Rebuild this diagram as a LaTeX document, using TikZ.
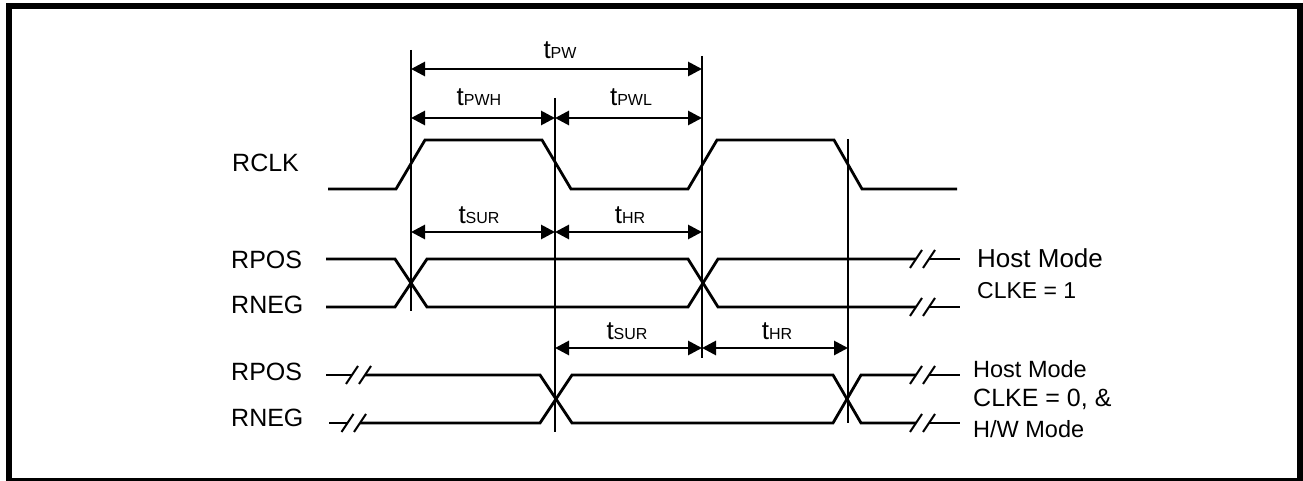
\documentclass[tikz,border=0pt]{standalone}
\usepackage{fontspec}
\setmainfont{Liberation Sans}
\usetikzlibrary{arrows.meta}
\newcommand\tsb[1]{t{\fontsize{16}{18}\selectfont #1}}
\begin{document}
\begin{tikzpicture}[x=1pt,y=-1pt,
  sig/.style={line width=2.8pt, line join=miter},
  guide/.style={line width=2pt},
  dimarrow/.style={line width=2.8pt, {Triangle[length=14pt,width=14pt]}-{Triangle[length=14pt,width=14pt]}},
  brk/.style={line width=2pt},
  lbl/.style={anchor=base west, inner sep=0pt},
  tlab/.style={anchor=base, inner sep=0pt, font=\fontsize{26}{28}\selectfont},
]
\useasboundingbox (0,0) rectangle (1303,481);
\draw[line width=6pt] (9,6) rectangle (1300,481);

% vertical reference lines
\coordinate (v1t) at (411,50);  \coordinate (v1b) at (411,311);
\coordinate (v2t) at (555,98);  \coordinate (v2b) at (555,432);
\coordinate (v3t) at (702,56);  \coordinate (v3b) at (702,358);
\coordinate (v4t) at (848,139); \coordinate (v4b) at (848,423);
\draw[guide] (v1t) -- (v1b);
\draw[guide] (v2t) -- (v2b);
\draw[guide] (v3t) -- (v3b);
\draw[guide] (v4t) -- (v4b);

% dimension arrows
\coordinate (a1) at (411,69);  \coordinate (a2) at (702,69);
\coordinate (b1) at (411,118); \coordinate (b2) at (555,118); \coordinate (b3) at (702,118);
\coordinate (c1) at (411,232); \coordinate (c2) at (555,232); \coordinate (c3) at (702,232);
\coordinate (d1) at (555,348); \coordinate (d2) at (702,348); \coordinate (d3) at (848,348);
\draw[dimarrow] (a1) -- (a2);
\draw[dimarrow] (b1) -- (b2);
\draw[dimarrow] (b2) -- (b3);
\draw[dimarrow] (c1) -- (c2);
\draw[dimarrow] (c2) -- (c3);
\draw[dimarrow] (d1) -- (d2);
\draw[dimarrow] (d2) -- (d3);

\node[tlab] (tpw)  at (560,59)  {\tsb{PW}};
\node[tlab] (tpwh) at (479,106) {\tsb{PWH}};
\node[tlab] (tpwl) at (631,106) {\tsb{PWL}};
\node[tlab] (tsur1) at (479,223) {\tsb{SUR}};
\node[tlab] (thr1) at (630,223) {\tsb{HR}};
\node[tlab] (tsur2) at (627,339) {\tsb{SUR}};
\node[tlab] (thr2) at (777,339) {\tsb{HR}};

% RCLK
\draw[sig] (328,189) -- (396,189) -- (425,140) -- (542,140) -- (571,189)
  -- (688,189) -- (717,140) -- (834,140) -- (862,189) -- (957,189);

% Host mode CLKE=1 (RPOS / RNEG)
\draw[sig] (326,259) -- (395,259) -- (427,307) -- (688,307) -- (718,259) -- (916,259);
\draw[sig] (326,307) -- (395,307) -- (427,259) -- (688,259) -- (718,307) -- (916,307);
\draw[sig] (929,259) -- (960,259);
\draw[sig] (929,307) -- (960,307);

% Host mode CLKE=0 / HW mode
\draw[sig] (326,375) -- (352,375);
\draw[sig] (365,375) -- (540,375) -- (572,423) -- (833,423) -- (861,375) -- (916,375);
\draw[sig] (329,423) -- (347.5,423);
\draw[sig] (360,423) -- (540,423) -- (572,375) -- (833,375) -- (861,423) -- (916,423);
\draw[sig] (929,375) -- (960,375);
\draw[sig] (929,423) -- (960,423);

% break marks
\foreach \cx/\cy in {352/375, 365/375, 347.5/423, 360/423,
                     916/259, 929/259, 916/307, 929/307,
                     916/375, 929/375, 916/423, 929/423}
  \draw[brk] (\cx-6,\cy+9) -- (\cx+6,\cy-9);

% left labels
\begin{scope}[font=\fontsize{25}{28}\selectfont]
\node[lbl] (rclk)  at (232,172) {RCLK};
\node[lbl] (rpos1) at (231,268) {RPOS};
\node[lbl] (rneg1) at (231,313) {RNEG};
\node[lbl] (rpos2) at (231,380) {RPOS};
\node[lbl] (rneg2) at (231,426) {RNEG};
\end{scope}

% right labels
\node[lbl, font=\fontsize{26}{28}\selectfont] (hm1) at (977,267) {Host Mode};
\node[lbl, font=\fontsize{23}{26}\selectfont] (ck1) at (977,298) {CLKE = 1};
\node[lbl, font=\fontsize{23.5}{26}\selectfont] (hm2) at (973,377) {Host Mode};
\node[lbl, font=\fontsize{25}{28}\selectfont] (ck2) at (973,406) {CLKE = 0, \&};
\node[lbl, font=\fontsize{23.5}{26}\selectfont] (hw)  at (973,437) {H/W Mode};
\end{tikzpicture}
\end{document}
